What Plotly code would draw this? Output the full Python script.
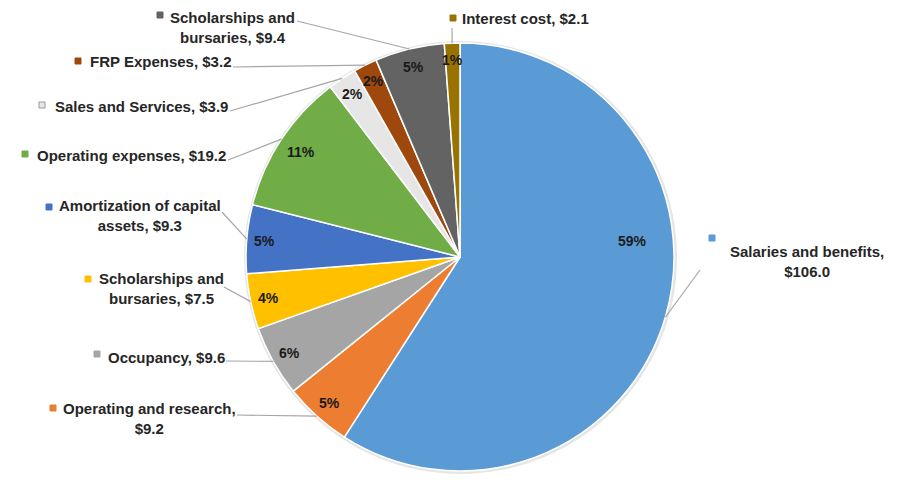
import math
import plotly.graph_objects as go

# ---------------- data ----------------
categories = [
    "Salaries and benefits",
    "Operating and research",
    "Occupancy",
    "Scholarships and bursaries",
    "Amortization of capital assets",
    "Operating expenses",
    "Sales and Services",
    "FRP Expenses",
    "Scholarships and bursaries",
    "Interest cost",
]
values = [106.0, 9.2, 9.6, 7.5, 9.3, 19.2, 3.9, 3.2, 9.4, 2.1]
pct_labels = [59, 5, 6, 4, 5, 11, 2, 2, 5, 1]
wrap_after = ["benefits,", "research,", None, "and", "capital", None, None, None, "and", None]

# ---------------- style ----------------
colors = ["#5B9BD5", "#ED7D31", "#A5A5A5", "#FFC000", "#4472C4",
          "#70AD47", "#E7E6E6", "#9E480E", "#636363", "#997300"]
W, H = 900, 480
CX, CY, R = 460, 257, 214
FONT = "Liberation Sans, Arial, sans-serif"
TXT = "#262626"

# label layout: text center x,y ; marker x,y ; leader start x,y
label_pos = [
    (807, 261, 712, 238, 700, 270),
    (149, 418, 53, 408, 237, 415),
    (166, 357, 97, 354, 226, 361),
    (161, 288, 88, 279, 224, 287),
    (140, 216, 49, 207, 222, 212),
    (131, 155, 25, 154, 228, 160),
    (141, 106, 42, 105, 230, 111),
    (160, 62, 78, 61, 233, 67),
    (232, 27, 160, 15, 297, 21),
    (525, 19, 453, 18, 452, 28),
]
pct_radius = [0.81, 0.915, 0.915, 0.915, 0.915, 0.89, 0.915, 0.915, 0.915, 0.92]
pct_angle_shift = [-21.6, 0, 0, 0, 0, 0, 0, 0, 0, 0]


def px(x):
    return x / W


def py(y):
    return 1 - y / H


fig = go.Figure(
    go.Pie(
        labels=[f"{c} ({i})" for i, c in enumerate(categories)],
        values=values,
        sort=False,
        direction="clockwise",
        rotation=0,
        textinfo="none",
        marker=dict(colors=colors, line=dict(color="white", width=1.5)),
        domain=dict(x=[(CX - R) / W, (CX + R) / W], y=[(H - CY - R) / H, (H - CY + R) / H]),
        showlegend=False,
        hoverinfo="label+value+percent",
    )
)

total = sum(values)
cum = 0.0
shapes = []
annotations = []

# faint shadow ring behind pie
shapes.append(dict(type="circle", xref="paper", yref="paper", layer="below",
                   x0=px(CX - R - 2), x1=px(CX + R + 3), y0=py(CY + R + 3), y1=py(CY - R - 2),
                   fillcolor="rgba(0,0,0,0.10)", line=dict(width=0)))

for i, (cat, v) in enumerate(zip(categories, values)):
    mid = (cum + v / 2) / total * 360.0
    cum += v
    a = math.radians(mid)
    # edge point
    ex, ey = CX + R * math.sin(a), CY - R * math.cos(a)
    # percent label
    ap = math.radians(mid + pct_angle_shift[i])
    tx = CX + pct_radius[i] * R * math.sin(ap)
    ty = CY - pct_radius[i] * R * math.cos(ap)
    annotations.append(dict(x=px(tx), y=py(ty), xref="paper", yref="paper",
                            text=f"{pct_labels[i]}%", showarrow=False,
                            font=dict(family=FONT, size=14, color="#1a1a1a", weight="bold"),
                            xanchor="center", yanchor="middle"))
    # outside label text
    text = f"{cat}, ${v:.1f}"
    if wrap_after[i]:
        text = text.replace(wrap_after[i] + " ", wrap_after[i] + "<br>", 1)
    lx, ly, mx, my, sx, sy = label_pos[i]
    annotations.append(dict(x=px(lx), y=py(ly), xref="paper", yref="paper",
                            text=text, showarrow=False, align="center",
                            font=dict(family=FONT, size=15, color=TXT, weight="bold"),
                            xanchor="center", yanchor="middle"))
    # marker square
    shapes.append(dict(type="rect", xref="paper", yref="paper",
                       x0=px(mx - 3), x1=px(mx + 3), y0=py(my + 3), y1=py(my - 3),
                       fillcolor=colors[i],
                       line=dict(color="#9a9a9a" if i == 6 else colors[i], width=1)))
    # leader line
    shapes.append(dict(type="line", xref="paper", yref="paper",
                       x0=px(sx), y0=py(sy), x1=px(ex), y1=py(ey),
                       line=dict(color="#A6A6A6", width=1.2)))

fig.update_layout(
    width=W, height=H,
    margin=dict(l=0, r=0, t=0, b=0),
    paper_bgcolor="white", plot_bgcolor="white",
    shapes=shapes, annotations=annotations,
    font=dict(family=FONT),
)

fig.write_html("out.html")
